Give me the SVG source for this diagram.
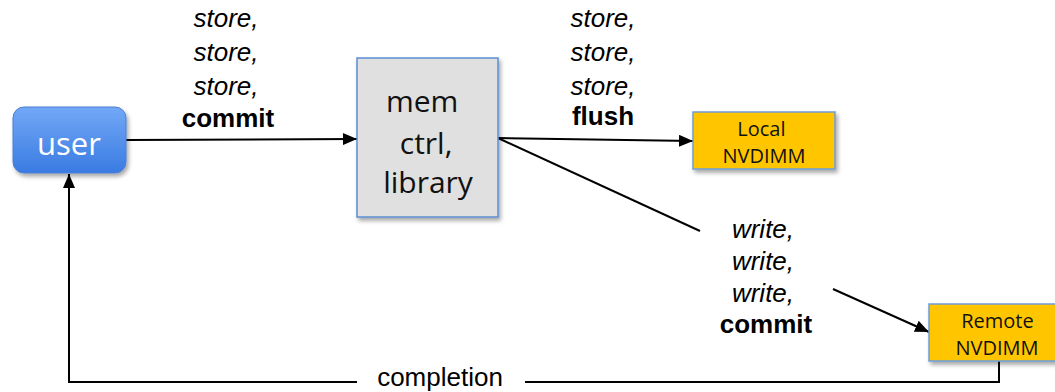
<svg xmlns="http://www.w3.org/2000/svg" width="1055" height="392" viewBox="0 0 1055 392">
  <defs>
    <linearGradient id="gUser" x1="0" y1="0" x2="0" y2="1">
      <stop offset="0" stop-color="#72a8f6"/>
      <stop offset="1" stop-color="#3a7be2"/>
    </linearGradient>
    <filter id="sh" x="-20%" y="-20%" width="150%" height="150%">
      <feDropShadow dx="2" dy="3" stdDeviation="2" flood-color="#000" flood-opacity="0.35"/>
    </filter>
    <marker id="ah" markerUnits="userSpaceOnUse" markerWidth="14" markerHeight="12" refX="14" refY="6" orient="auto">
      <path d="M0,0 L14,6 L0,12 z" fill="#000"/>
    </marker>
    <style>
      .conn { fill: none; stroke: #000; stroke-width: 2; }
      .lbl { font-family: "Liberation Sans", Arial, sans-serif; font-size: 26px; fill: #000; text-anchor: middle; }
      .it { font-style: italic; }
      .bd { font-weight: bold; }
      .node-t { font-family: "Open Sans", "Liberation Sans", sans-serif; text-anchor: middle; }
      .nv { fill: #ffc600; stroke: #6f9dd8; stroke-width: 1.5; }
    </style>
  </defs>

  <g id="connectors">
    <line class="conn" x1="126" y1="140" x2="357" y2="139" marker-end="url(#ah)"/>
    <line class="conn" x1="498" y1="138" x2="693" y2="141" marker-end="url(#ah)"/>
    <line class="conn" x1="498" y1="138" x2="700" y2="231"/>
    <line class="conn" x1="833" y1="289" x2="929" y2="332" marker-end="url(#ah)"/>
    <polyline class="conn" points="999,361 999,382 525,382"/>
    <polyline class="conn" points="357,382 69,382 69,174" marker-end="url(#ah)"/>
  </g>

  <g id="user">
    <rect x="13" y="107" width="113" height="66" rx="11" ry="11" fill="url(#gUser)" stroke="#4a7fd0" stroke-width="1" filter="url(#sh)"/>
    <text class="node-t" x="69" y="155" font-size="31" fill="#ffffff">user</text>
  </g>

  <g id="memctrl">
    <rect x="357" y="58" width="141" height="159" fill="#e0e0e0" stroke="#5b8fd2" stroke-width="1.5" filter="url(#sh)"/>
    <text class="node-t" font-size="30" fill="#111">
      <tspan x="426" y="112">mem</tspan>
      <tspan x="430" y="154">ctrl,</tspan>
      <tspan x="428" y="193">library</tspan>
    </text>
  </g>

  <g id="local">
    <rect class="nv" x="693" y="112" width="142" height="57" filter="url(#sh)"/>
    <text class="node-t" font-size="20" fill="#111">
      <tspan x="764" y="136">Local</tspan>
      <tspan x="764" y="163">NVDIMM</tspan>
    </text>
  </g>

  <g id="remote">
    <rect class="nv" x="929" y="304" width="140" height="57" filter="url(#sh)"/>
    <text class="node-t" font-size="20" fill="#111">
      <tspan x="1000" y="328">Remote</tspan>
      <tspan x="997" y="355">NVDIMM</tspan>
    </text>
  </g>

  <g id="labels">
    <text class="lbl it" x="226" y="27">store,</text>
    <text class="lbl it" x="226" y="61">store,</text>
    <text class="lbl it" x="226" y="95">store,</text>
    <text class="lbl bd" x="228" y="127">commit</text>

    <text class="lbl it" x="603" y="27">store,</text>
    <text class="lbl it" x="603" y="61">store,</text>
    <text class="lbl it" x="603" y="95">store,</text>
    <text class="lbl bd" x="603" y="125">flush</text>

    <text class="lbl it" x="763" y="238">write,</text>
    <text class="lbl it" x="763" y="270">write,</text>
    <text class="lbl it" x="763" y="302">write,</text>
    <text class="lbl bd" x="766" y="333">commit</text>

    <text class="lbl" x="440" y="386" font-size="25">completion</text>
  </g>
</svg>
